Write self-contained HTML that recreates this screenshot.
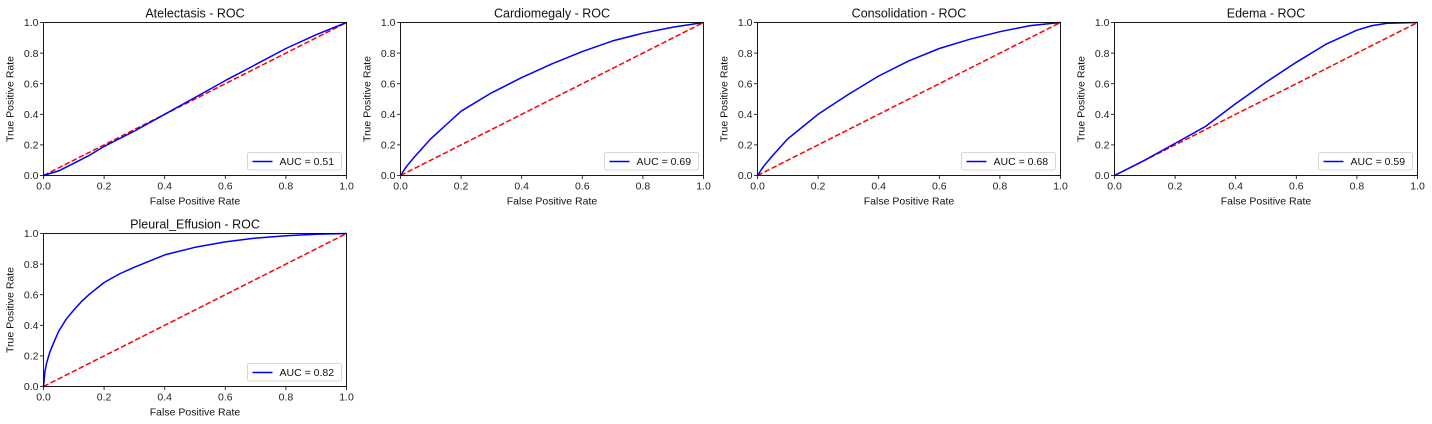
<!DOCTYPE html>
<html><head><meta charset="utf-8"><style>
html,body{margin:0;padding:0;background:#fff;}
svg{display:block;font-family:"Liberation Sans","DejaVu Sans",sans-serif;}
</style></head><body>
<svg id="c" width="1432" height="424" viewBox="0 0 1432 424"></svg>
<script>
const titles = ["Atelectasis","Cardiomegaly","Consolidation","Edema","Pleural_Effusion"];
const aucs = ["0.51","0.69","0.68","0.59","0.82"];
const fprAt = [0,0.05,0.1,0.15,0.2,0.3,0.4,0.5,0.6,0.7,0.8,0.9,1];
const tprAt = [0,0.03,0.08,0.13,0.19,0.29,0.40,0.51,0.62,0.725,0.83,0.92,1];
const fprCa = [0,0.02,0.05,0.1,0.15,0.2,0.3,0.4,0.5,0.6,0.7,0.8,0.9,1];
const tprCa = [0,0.06,0.13,0.24,0.33,0.42,0.54,0.64,0.73,0.81,0.88,0.93,0.97,1];
const fprCo = [0,0.02,0.05,0.1,0.15,0.2,0.3,0.4,0.5,0.6,0.7,0.8,0.9,1];
const tprCo = [0,0.06,0.13,0.24,0.32,0.40,0.53,0.65,0.75,0.83,0.89,0.94,0.98,1];
const fprEd = [0,0.1,0.2,0.3,0.4,0.5,0.6,0.7,0.8,0.85,0.9,1];
const tprEd = [0,0.10,0.21,0.32,0.47,0.61,0.74,0.86,0.95,0.98,0.995,1];
const fprPl = [0,0.005,0.01,0.02,0.03,0.05,0.075,0.1,0.125,0.15,0.2,0.25,0.3,0.4,0.5,0.6,0.7,0.8,0.9,1];
const tprPl = [0,0.1,0.15,0.22,0.27,0.36,0.44,0.50,0.555,0.60,0.68,0.735,0.78,0.86,0.91,0.945,0.97,0.985,0.995,1];
const ticks = ["0.0","0.2","0.4","0.6","0.8","1.0"];
const series = [[fprAt,tprAt],[fprCa,tprCa],[fprCo,tprCo],[fprEd,tprEd],[fprPl,tprPl]];
const NS="http://www.w3.org/2000/svg";
const svg=document.getElementById('c');
function mk(t,a,p){const e=document.createElementNS(NS,t);for(const k in a)e.setAttribute(k,a[k]);(p||svg).appendChild(e);return e;}
const W=303,H=153;
series.forEach((s,i)=>{
  const L=43.5+357*(i%4), T=i<4?22.5:233.5;
  const g=mk('g',{});
  
  
  const sx=v=>L+v*W, sy=v=>T+H-v*H;
  const d=mk('line',{x1:sx(0),y1:sy(0),x2:sx(1),y2:sy(1),stroke:'#ff0000','stroke-width':1.5,'stroke-dasharray':'5.5,2.4'},g);
  
  
  const pts=s[0].map((x,j)=>sx(x).toFixed(1)+','+sy(s[1][j]).toFixed(1)).join(' ');
  const pl=mk('polyline',{points:pts,fill:'none',stroke:'#0000ff','stroke-width':1.5,'stroke-linejoin':'round'},g);
  
  
  const fr=mk('rect',{x:L,y:T,width:W,height:H,fill:'none',stroke:'#000','stroke-width':0.9},g);
  
  
  ticks.forEach((tl,k)=>{
    const v=k/5;
    mk('line',{x1:sx(v),y1:T+H,x2:sx(v),y2:T+H+3.5,stroke:'#000','stroke-width':0.8},g);
    const tx=mk('text',{x:sx(v),y:T+H+14,'font-size':10.5,'text-anchor':'middle',fill:'#222'},g);
    tx.textContent=tl;
    
    
    mk('line',{x1:L-3.5,y1:sy(v),x2:L,y2:sy(v),stroke:'#000','stroke-width':0.8},g);
    const ty=mk('text',{x:L-5,y:sy(v)+3.7,'font-size':10.5,'text-anchor':'end',fill:'#222'},g);
    ty.textContent=tl;
    
    
  });
  const ti=mk('text',{x:L+W/2,y:T-5,'font-size':12.5,'text-anchor':'middle',fill:'#111'},g);
  ti.textContent=titles[i]+' - ROC';
  
  
  const xl=mk('text',{x:L+W/2,y:T+H+29,'font-size':10.5,'text-anchor':'middle',fill:'#111'},g);
  xl.textContent='False Positive Rate';
  
  
  const yl=mk('text',{x:0,y:0,'font-size':10.5,'text-anchor':'middle',fill:'#111',transform:`translate(${L-30},${T+H/2}) rotate(-90)`},g);
  yl.textContent='True Positive Rate';
  
  
  const lg=mk('g',{},g);
  
  
  mk('rect',{x:L+204,y:T+130,width:94,height:17.5,rx:2,fill:'#fff','fill-opacity':0.8,stroke:'#ccc','stroke-width':0.8},lg);
  mk('line',{x1:L+209,y1:T+139,x2:L+229,y2:T+139,stroke:'#0000ff','stroke-width':1.5},lg);
  const lt=mk('text',{x:L+236,y:T+142.5,'font-size':10.5,fill:'#111'},lg);
  lt.textContent='AUC = '+aucs[i];
  
  
});
</script>
</body></html>
